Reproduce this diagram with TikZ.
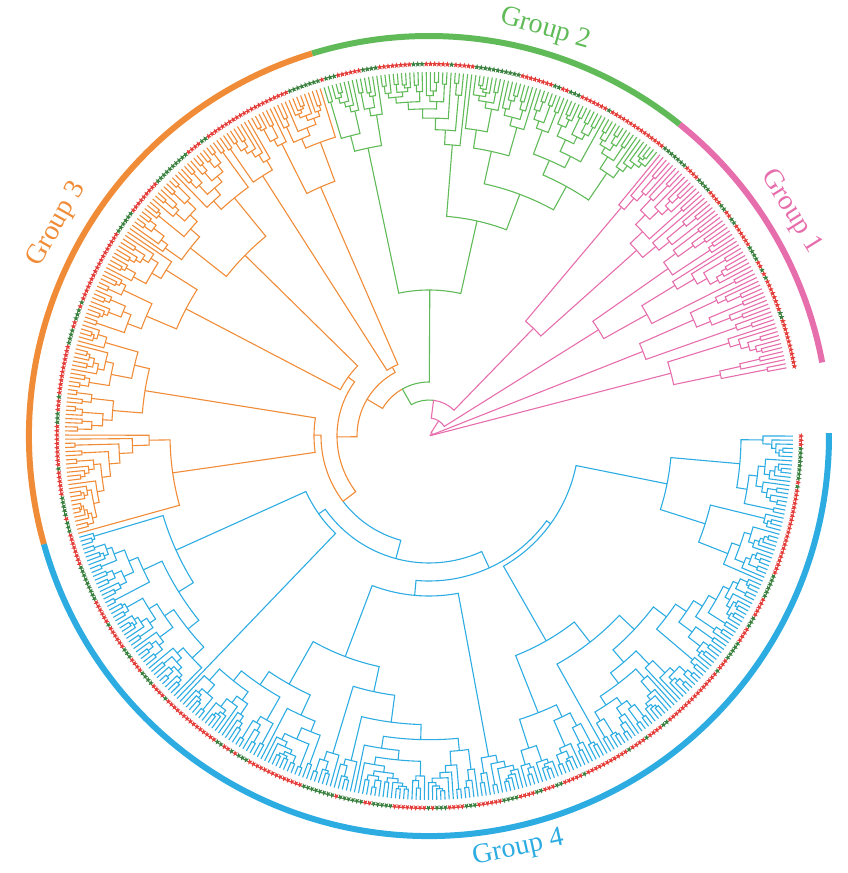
\documentclass[tikz,border=0pt]{standalone}
\usepackage{fontspec}
\setmainfont{Liberation Serif}
\usetikzlibrary{shapes.geometric}

\definecolor{grpone}{RGB}{231,110,172}
\definecolor{grptwo}{RGB}{96,186,88}
\definecolor{grpthree}{RGB}{240,140,56}
\definecolor{grpfour}{RGB}{45,172,226}
\definecolor{starred}{RGB}{228,62,58}
\definecolor{stargreen}{RGB}{58,128,62}

% leaf geometry (pt, centre of the tree at the origin)
\def\tipR{364}
\def\starR{372}
\def\firstang{10.8}
\def\stepang{0.6527}
\def\cladecol{grpfour}
\def\depthb{12}
\def\redname{starred}
\gdef\lastcol{starred}

\newcommand\tipmark[2]{%
  \pgfmathsetmacro\coin{rnd}%
  \ifx\lastcol\redname
    \ifdim\coin pt>0.88pt \gdef\lastcol{stargreen}\fi
  \else
    \ifdim\coin pt>0.65pt \gdef\lastcol{starred}\fi
  \fi
  \node[tipstar, fill=\lastcol, rotate=#1-90] (tip#2) at (#1:\starR pt) {};}

\newcommand\noderad[2]{%
  \ifnum#1=1 \xdef\claderad{\tipR}%
  \else
    \pgfmathsetmacro\rtmp{max(#2+0.2*(\tipR-#2), \tipR-\depthb*pow(#1-1,0.6)*(0.7+0.6*rnd))}%
    \xdef\claderad{\rtmp}%
  \fi}

\newcommand\clade[3]{%
  \begingroup
  \edef\myn{#1}\edef\mys{#2}\edef\myr{#3}%
  \ifnum\myn=1
    \pgfmathsetmacro\cang{\firstang+\mys*\stepang}%
    \tipmark{\cang}{\mys}%
    \xdef\cladeang{\cang}%
  \else
    \pgfmathtruncatemacro\nleft{max(1,min(\myn-1,round(\myn*rnd)))}%
    \pgfmathtruncatemacro\nright{\myn-\nleft}%
    \pgfmathtruncatemacro\sright{\mys+\nleft}%
    \noderad{\nleft}{\myr}\let\radl\claderad
    \noderad{\nright}{\myr}\let\radr\claderad
    \clade{\nleft}{\mys}{\radl}\let\angl\cladeang
    \clade{\nright}{\sright}{\radr}\let\angr\cladeang
    \draw[branch, draw=\cladecol] (\angl:\radl pt) -- (\angl:\myr pt)
      arc[start angle=\angl, end angle=\angr, radius=\myr pt] -- (\angr:\radr pt);
    \pgfmathsetmacro\cang{(\angl+\angr)/2}%
    \xdef\cladeang{\cang}%
  \fi
  \endgroup}

\newcommand\joinspine[7]{%
  \pgfmathsetmacro\midang{(#1+#4)/2}%
  \draw[branch, draw=#3] (#1:#2pt) -- (#1:#7pt) arc[start angle=#1, end angle=\midang, radius=#7pt];
  \draw[branch, draw=#6] (\midang:#7pt) arc[start angle=\midang, end angle=#4, radius=#7pt] -- (#4:#5pt);
  \xdef\cladeang{\midang}}

\begin{document}
\begin{tikzpicture}[x=1pt, y=1pt,
  branch/.style={line width=1.1pt, line join=miter},
  tipstar/.style={star, star points=5, star point ratio=2.3, minimum size=6pt, inner sep=0pt, draw=none},
  grouparc/.style={line width=6pt},
  grouplabel/.style={font=\fontsize{28}{28}\selectfont, inner sep=0pt}]
\useasboundingbox (-429pt,-437pt) rectangle (418pt,436pt);
\pgfmathsetseed{7}

% Group 4
\def\cladecol{grpfour}\def\depthb{12}
\clade{90}{331}{160}\let\angBb\cladeang
\clade{115}{421}{150}\let\angBc\cladeang
\joinspine{\angBb}{160}{grpfour}{\angBc}{150}{grpfour}{145}\let\angSi\cladeang
\clade{47}{284}{135}\let\angBa\cladeang
\joinspine{\angBa}{135}{grpfour}{\angSi}{145}{grpfour}{127}\let\angSh\cladeang

% Group 3
\def\cladecol{grpthree}\def\depthb{13}
\clade{52}{232}{115}\let\angOc\cladeang
\joinspine{\angOc}{115}{grpthree}{\angSh}{127}{grpfour}{108}\let\angSg\cladeang
\clade{56}{176}{100}\let\angOb\cladeang
\joinspine{\angOb}{100}{grpthree}{\angSg}{108}{grpthree}{92}\let\angSf\cladeang
\clade{28}{148}{78}\let\angOa\cladeang
\joinspine{\angOa}{78}{grpthree}{\angSf}{92}{grpthree}{72}\let\angSe\cladeang

% Group 2
\def\cladecol{grptwo}\def\depthb{13}
\clade{86}{62}{146}\let\angG\cladeang
\joinspine{\angG}{146}{grptwo}{\angSe}{72}{grpthree}{54}\let\angSd\cladeang

% Group 1
\def\cladecol{grpone}\def\depthb{24}
\clade{20}{42}{150}\let\angPd\cladeang
\joinspine{\angPd}{150}{grpone}{\angSd}{54}{grptwo}{36}\let\angSc\cladeang
\clade{18}{24}{200}\let\angPc\cladeang
\joinspine{\angPc}{200}{grpone}{\angSc}{36}{grpone}{18}\let\angSb\cladeang
\clade{12}{12}{230}\let\angPb\cladeang
\joinspine{\angPb}{230}{grpone}{\angSb}{18}{grpone}{4}\let\angSa\cladeang
\clade{12}{0}{250}\let\angPa\cladeang
\joinspine{\angPa}{250}{grpone}{\angSa}{4}{grpone}{1.5}

% outer group rings
\draw[grouparc, grpone] (10.6:400pt) arc[start angle=10.6, end angle=51.2, radius=400pt];
\draw[grouparc, grptwo] (51.2:400pt) arc[start angle=51.2, end angle=107, radius=400pt];
\draw[grouparc, grpthree] (107:400pt) arc[start angle=107, end angle=195.7, radius=400pt];
\draw[grouparc, grpfour] (195.7:400pt) arc[start angle=195.7, end angle=360.4, radius=400pt];

\node[grouplabel, text=grpone, rotate=-58] (lab1) at (31.8:426pt) {Group 1};
\node[grouplabel, text=grptwo, rotate=-16] (lab2) at (74:423pt) {Group 2};
\node[grouplabel, text=grpthree, rotate=60.4] (lab3) at (150.4:428pt) {Group 3};
\node[grouplabel, text=grpfour, rotate=12.2] (lab4) at (282.2:422pt) {Group 4};
\end{tikzpicture}
\end{document}
